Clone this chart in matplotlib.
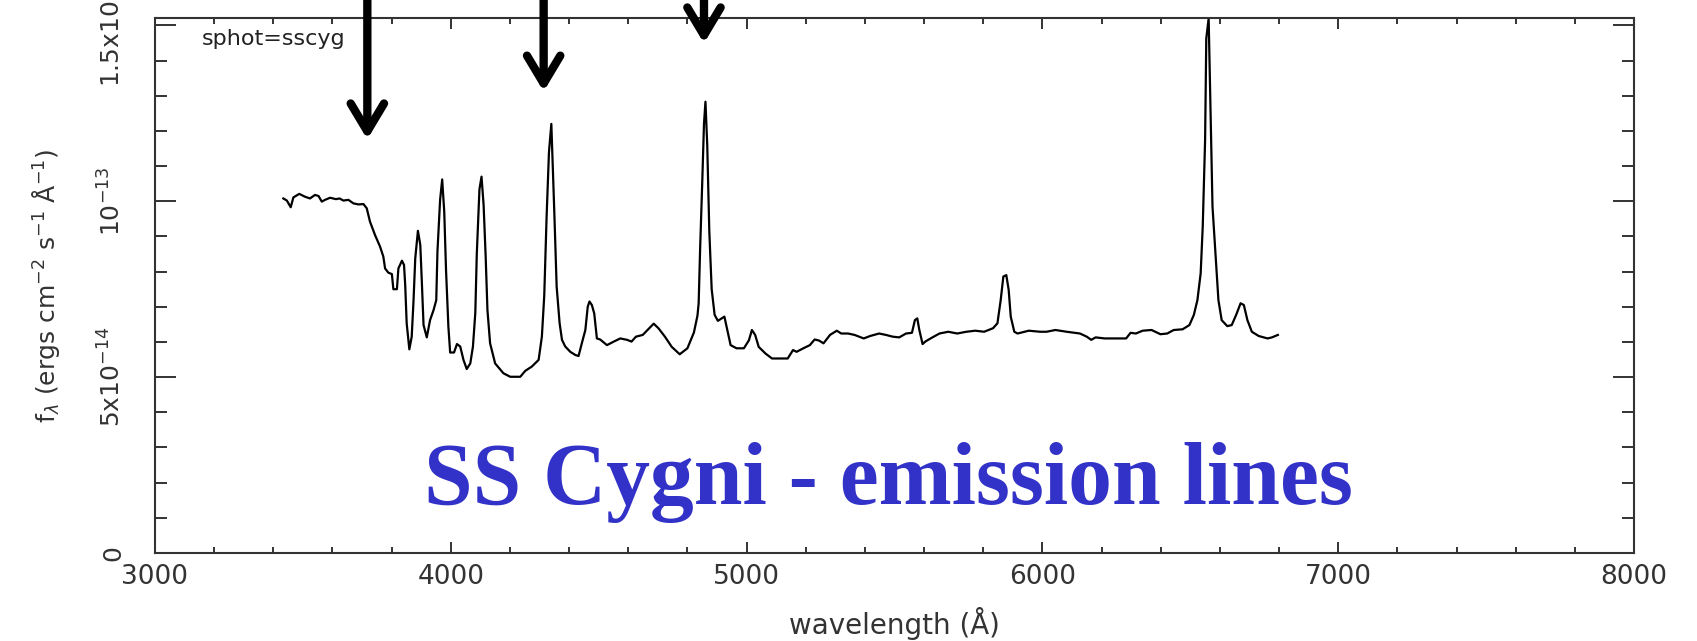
import numpy as np
import matplotlib
matplotlib.use('Agg')
import matplotlib.pyplot as plt
from matplotlib.ticker import MultipleLocator

# 光谱数据: 波长 (Å) 与流量 (单位 1e-13 ergs cm^-2 s^-1 Å^-1)
wavelength = [3434, 3446, 3459, 3468, 3488, 3507, 3524, 3541, 3553, 3564, 3575, 3592, 3612, 3624,
              3637, 3654, 3671, 3688, 3705, 3716, 3727, 3744, 3761, 3772, 3778, 3789, 3801, 3806,
              3818, 3823, 3835, 3842, 3846, 3851, 3860, 3868, 3874, 3880, 3889, 3897, 3902, 3908,
              3919, 3930, 3942, 3951, 3955, 3964, 3971, 3978, 3984, 3992, 3998, 4011, 4021, 4032,
              4043, 4054, 4066, 4075, 4083, 4088, 4097, 4104, 4111, 4118, 4124, 4133, 4150, 4178,
              4201, 4235, 4252, 4274, 4297, 4308, 4316, 4324, 4332, 4340, 4350, 4358, 4368, 4376,
              4387, 4404, 4421, 4432, 4443, 4455, 4463, 4469, 4477, 4485, 4494, 4505, 4528, 4551,
              4573, 4596, 4611, 4626, 4649, 4671, 4686, 4702, 4724, 4747, 4774, 4800, 4822, 4834,
              4838, 4843, 4850, 4856, 4861, 4867, 4874, 4882, 4892, 4903, 4925, 4935, 4946, 4966,
              4991, 5008, 5018, 5029, 5041, 5064, 5086, 5139, 5157, 5169, 5192, 5214, 5230, 5245,
              5260, 5282, 5305, 5320, 5343, 5365, 5396, 5418, 5448, 5471, 5494, 5516, 5539, 5559,
              5569, 5577, 5584, 5595, 5604, 5622, 5652, 5682, 5712, 5743, 5773, 5803, 5833, 5848,
              5859, 5868, 5878, 5886, 5893, 5905, 5916, 5954, 5992, 6014, 6044, 6082, 6127, 6150,
              6165, 6180, 6210, 6255, 6283, 6298, 6316, 6339, 6369, 6399, 6422, 6444, 6474, 6497,
              6512, 6524, 6535, 6542, 6550, 6554, 6562, 6569, 6575, 6588, 6595, 6606, 6625, 6640,
              6655, 6670, 6681, 6693, 6708, 6731, 6761, 6776, 6796]
flux = [1.008, 1.002, 0.983, 1.011, 1.021, 1.013, 1.008, 1.018, 1.015, 0.999, 1.004, 1.010, 1.006, 1.008,
        1.002, 1.004, 0.994, 0.991, 0.992, 0.980, 0.942, 0.904, 0.871, 0.843, 0.809, 0.797, 0.793, 0.750,
        0.750, 0.809, 0.831, 0.819, 0.762, 0.653, 0.579, 0.615, 0.715, 0.838, 0.916, 0.876, 0.776, 0.648,
        0.613, 0.662, 0.691, 0.719, 0.857, 1.004, 1.062, 0.970, 0.805, 0.643, 0.570, 0.570, 0.594, 0.587,
        0.549, 0.523, 0.539, 0.587, 0.683, 0.850, 1.034, 1.070, 0.990, 0.843, 0.691, 0.596, 0.539, 0.511,
        0.501, 0.501, 0.518, 0.530, 0.549, 0.615, 0.731, 0.956, 1.140, 1.220, 0.970, 0.757, 0.653, 0.606,
        0.587, 0.572, 0.563, 0.560, 0.596, 0.634, 0.700, 0.715, 0.705, 0.681, 0.610, 0.607, 0.591, 0.601,
        0.610, 0.606, 0.601, 0.615, 0.620, 0.639, 0.652, 0.639, 0.615, 0.586, 0.565, 0.582, 0.627, 0.675,
        0.710, 0.866, 1.050, 1.220, 1.283, 1.160, 0.915, 0.750, 0.677, 0.660, 0.672, 0.634, 0.591, 0.582,
        0.582, 0.605, 0.634, 0.620, 0.586, 0.567, 0.553, 0.553, 0.577, 0.572, 0.582, 0.591, 0.607, 0.604,
        0.596, 0.620, 0.632, 0.624, 0.624, 0.620, 0.610, 0.617, 0.624, 0.620, 0.615, 0.613, 0.624, 0.626,
        0.662, 0.667, 0.634, 0.594, 0.601, 0.610, 0.624, 0.629, 0.624, 0.629, 0.632, 0.629, 0.639, 0.653,
        0.719, 0.786, 0.790, 0.748, 0.672, 0.629, 0.624, 0.632, 0.629, 0.629, 0.634, 0.629, 0.624, 0.615,
        0.606, 0.613, 0.610, 0.610, 0.610, 0.626, 0.624, 0.632, 0.634, 0.622, 0.624, 0.634, 0.636, 0.648,
        0.677, 0.719, 0.795, 0.928, 1.174, 1.463, 1.520, 1.231, 0.985, 0.814, 0.719, 0.662, 0.645, 0.648,
        0.677, 0.710, 0.705, 0.662, 0.629, 0.617, 0.610, 0.613, 0.620]

# 箭头: 所指波长与箭头尖端的流量
arrow_wl = [3718, 4314, 4856]
arrow_tip = [1.176, 1.312, 1.449]

y_ticks = [0, 0.5, 1.0, 1.5]
y_ticklabels = ['0', r'5x10$^{-14}$', r'10$^{-13}$', r'1.5x10$^{-13}$']

fig = plt.figure(figsize=(16.97, 6.41), dpi=100)
ax = fig.add_axes([0.0913, 0.1373, 0.8716, 0.8346])

ax.plot(wavelength, np.array(flux), color='black', lw=1.6)

ax.set_xlim(3000, 8000)
ax.set_ylim(0, 1.521)

ax.xaxis.set_major_locator(MultipleLocator(1000))
ax.xaxis.set_minor_locator(MultipleLocator(200))
ax.set_yticks(y_ticks)
ax.set_yticklabels(y_ticklabels)
ax.yaxis.set_minor_locator(MultipleLocator(0.1))

for s in ax.spines.values():
    s.set_linewidth(1.5)
    s.set_color('#333333')
ax.tick_params(which='both', direction='in', top=True, right=True, color='#333333', width=1.4)
ax.tick_params(axis='x', which='major', length=8, pad=8, labelsize=19, labelcolor='#333333')
ax.tick_params(axis='x', which='minor', length=4.5)
ax.tick_params(axis='y', which='major', length=15, pad=21, labelsize=18, labelcolor='#333333',
               labelrotation=90)
ax.tick_params(axis='y', which='minor', length=8.5)
for lab in ax.get_yticklabels():
    lab.set_va('center')

ax.set_xlabel('wavelength (Å)', fontsize=20, color='#333333', va='center')
ax.xaxis.set_label_coords(0.5, -0.1327)
ax.set_ylabel(r'f$_\lambda$ (ergs cm$^{-2}$ s$^{-1}$ Å$^{-1}$)', fontsize=18, color='#333333', va='center')
ax.yaxis.set_label_coords(-0.0737, 0.5)

ax.text(3159, 1.443, 'sphot=sscyg', fontsize=16, color='#222222', va='baseline')

ax.text(5480, 0.139, 'SS Cygni - emission lines', fontsize=63, fontweight='bold',
        family='Liberation Serif', color='#3232c8', ha='center', va='baseline')

for wl, tip in zip(arrow_wl, arrow_tip):
    ax.annotate('', xy=(wl, tip), xytext=(wl, 1.02), textcoords=('data', 'figure fraction'),
                arrowprops=dict(arrowstyle='->,head_length=0.5,head_width=0.3', lw=6,
                                color='black', mutation_scale=40, shrinkA=0, shrinkB=0),
                annotation_clip=False)

fig.savefig('out.png', dpi=100)
